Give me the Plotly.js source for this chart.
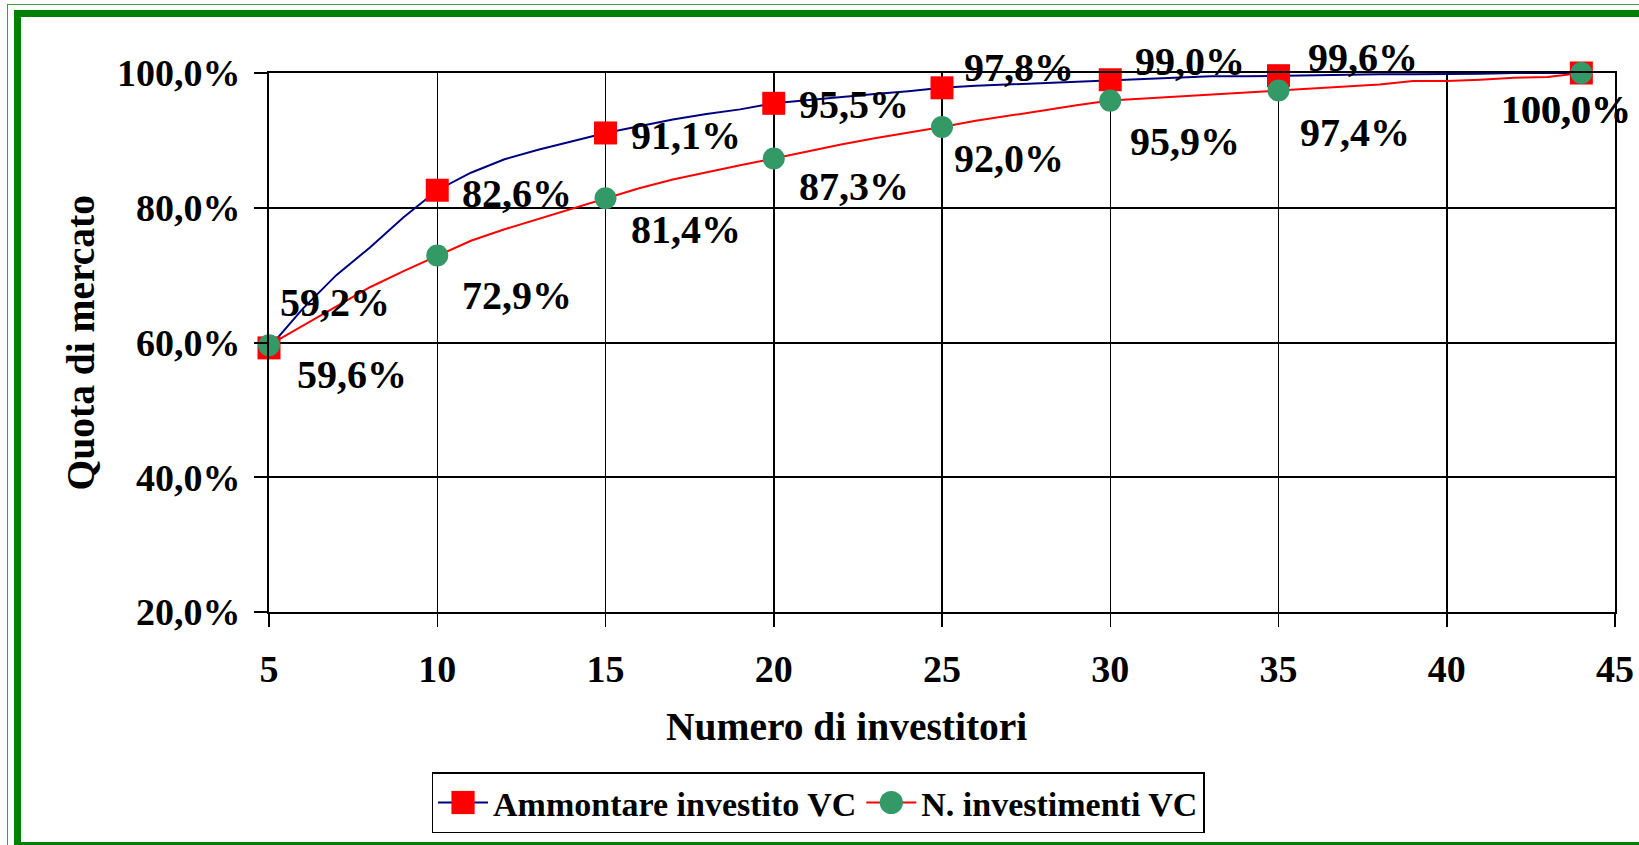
<!DOCTYPE html>
<html>
<head>
<meta charset="utf-8">
<title>Quota di mercato per numero di investitori</title>
<script src="https://cdn.plot.ly/plotly-3.0.1.min.js"></script>
<style>
  html, body { margin: 0; padding: 0; background: #fff; overflow: hidden; }
  #chart { position: absolute; left: 0; top: 0; width: 1639px; height: 845px; }
  .frame-thin { position: absolute; left: 7px; top: 4px; width: 1700px; height: 900px; border: 1.5px solid #3d9b3d; pointer-events: none; }
  .frame-thick { position: absolute; left: 14px; top: 10px; width: 1700px; height: 825px; border: 7px solid #008000; pointer-events: none; }
</style>
</head>
<body>
<div id="chart"></div>
<div class="frame-thin"></div>
<div class="frame-thick"></div>
<script>
// cumulative market share by number of investors
const investors = [5, 6, 7, 8, 9, 10, 11, 12, 13, 14, 15, 16, 17, 18, 19, 20, 21, 22, 23, 24,
  25, 26, 27, 28, 29, 30, 31, 32, 33, 34, 35, 36, 37, 38, 39, 40, 41, 42, 43, 44];
const ammontare = [59.2, 65.0, 70.0, 74.1, 78.6, 82.6, 85.2, 87.2, 88.6, 89.9,
  91.1, 92.1, 93.1, 93.9, 94.6, 95.5, 96.0, 96.5, 96.9, 97.3,
  97.8, 98.1, 98.3, 98.5, 98.7, 99.0, 99.2, 99.4, 99.5, 99.5,
  99.6, 99.6, 99.8, 99.8, 99.8, 99.8, 99.9, 100.0, 100.0, 100.0];
const nInvestimenti = [59.6, 62.5, 65.3, 68.2, 70.6, 72.9, 75.1, 76.8, 78.3, 79.8,
  81.4, 82.9, 84.2, 85.3, 86.3, 87.3, 88.4, 89.4, 90.3, 91.1,
  92.0, 92.9, 93.7, 94.5, 95.2, 95.9, 96.2, 96.5, 96.8, 97.1,
  97.4, 97.7, 98.0, 98.3, 98.8, 98.8, 99.0, 99.3, 99.4, 100.0];

// points that carry a marker and a label
const markerInvestors = [5, 10, 15, 20, 25, 30, 35, 44];
const ammontareMarked = [59.2, 82.6, 91.1, 95.5, 97.8, 99.0, 99.6, 100.0];
const nInvestimentiMarked = [59.6, 72.9, 81.4, 87.3, 92.0, 95.9, 97.4, 100.0];

const FONT = '"Times New Roman", "Liberation Serif", serif';
const BLUE = "#000080";
const RED = "#ff0000";
const GREEN = "#339966";

// label placement: [dx from point to text start, dy down to text middle, anchor]
const ammShift = [[9, -45], [23, 3], [23, 3], [23, 1], [20, -20], [23, -18], [27, -18], [-15, 36, "center"]];
const nShift = [[26, 29], [23, 40], [23, 31], [23, 28], [10, 32], [18, 41], [19, 42], [-15, 36, "center"]];

const fmt = (v) => v.toFixed(1).replace(".", ",") + "%";

const makeLabel = (x, y, shift) => ({
  x: x,
  y: y,
  xref: "x",
  yref: "y",
  text: fmt(y),
  showarrow: false,
  xanchor: shift[2] || "left",
  yanchor: "middle",
  xshift: shift[0],
  yshift: -shift[1],
  font: { family: FONT, size: 40, color: "#000", weight: "bold" },
});

const annotations = [];
markerInvestors.forEach((x, i) => {
  annotations.push(makeLabel(x, ammontareMarked[i], ammShift[i]));
  annotations.push(makeLabel(x, nInvestimentiMarked[i], nShift[i]));
});

annotations.push({
  xref: "paper",
  yref: "paper",
  x: 0.4294,
  y: -0.2126,
  xanchor: "center",
  yanchor: "middle",
  showarrow: false,
  text: "Numero di investitori",
  font: { family: FONT, size: 39.5, color: "#000", weight: "bold" },
});
annotations.push({
  xref: "paper",
  yref: "paper",
  x: -0.1397,
  y: 0.5,
  xanchor: "center",
  yanchor: "middle",
  textangle: -90,
  showarrow: false,
  text: "Quota di mercato",
  font: { family: FONT, size: 39.5, color: "#000", weight: "bold" },
});

const traces = [
  {
    x: investors,
    y: ammontare,
    mode: "lines",
    line: { color: BLUE, width: 2 },
    showlegend: false,
    cliponaxis: false,
    hoverinfo: "skip",
  },
  {
    x: investors,
    y: nInvestimenti,
    mode: "lines",
    line: { color: RED, width: 2 },
    showlegend: false,
    cliponaxis: false,
    hoverinfo: "skip",
  },
  {
    x: markerInvestors,
    y: ammontareMarked,
    mode: "markers",
    marker: { symbol: "square", size: 23, color: RED },
    showlegend: false,
    cliponaxis: false,
  },
  {
    x: markerInvestors,
    y: nInvestimentiMarked,
    mode: "markers",
    marker: { symbol: "circle", size: 22, color: GREEN },
    showlegend: false,
    cliponaxis: false,
  },
  // legend entries only
  {
    x: [null],
    y: [null],
    name: "Ammontare investito VC",
    mode: "lines+markers",
    line: { color: BLUE, width: 2 },
    marker: { symbol: "square", size: 23, color: RED },
  },
  {
    x: [null],
    y: [null],
    name: "N. investimenti VC",
    mode: "lines+markers",
    line: { color: RED, width: 2 },
    marker: { symbol: "circle", size: 22, color: GREEN },
  },
];

const tickFont = { family: FONT, size: 38, color: "#000", weight: "bold" };

const layout = {
  width: 1639,
  height: 845,
  margin: { l: 269, r: 24, t: 73, b: 231 },
  paper_bgcolor: "#fff",
  plot_bgcolor: "#fff",
  separators: ",.",
  font: { family: FONT, size: 38, color: "#000" },
  showlegend: true,
  xaxis: {
    range: [5, 45],
    tick0: 5,
    dtick: 5,
    ticks: "outside",
    ticklen: 13,
    tickwidth: 1.5,
    tickcolor: "#000",
    ticklabelstandoff: 9,
    tickfont: tickFont,
    showgrid: true,
    gridcolor: "#000",
    gridwidth: 1.5,
    showline: true,
    mirror: true,
    linecolor: "#000",
    linewidth: 2,
    zeroline: false,
    fixedrange: true,
  },
  yaxis: {
    range: [20, 100],
    tick0: 20,
    dtick: 20,
    tickformat: ".1f",
    ticksuffix: "%",
    ticks: "outside",
    ticklen: 13,
    tickwidth: 2,
    tickcolor: "#000",
    ticklabelstandoff: 6,
    tickfont: tickFont,
    showgrid: true,
    gridcolor: "#000",
    gridwidth: 2,
    showline: true,
    mirror: true,
    linecolor: "#000",
    linewidth: 2,
    zeroline: false,
    fixedrange: true,
  },
  legend: {
    orientation: "h",
    x: 0.4079,
    xanchor: "center",
    y: -0.2976,
    yanchor: "top",
    bgcolor: "#fff",
    bordercolor: "#000",
    borderwidth: 1.5,
    itemwidth: 50,
    font: { family: FONT, size: 34, color: "#000", weight: "bold" },
  },
  annotations: annotations,
};

Plotly.newPlot("chart", traces, layout, { displayModeBar: false, staticPlot: true }).then(() => {
  // legend symbols are capped at 16px by plotly, enlarge to match markers
  document.querySelectorAll("#chart .legend path.scatterpts").forEach((p) => {
    const t = p.getAttribute("transform") || "";
    p.setAttribute("transform", t + " scale(1.45)");
  });
});
</script>
</body>
</html>
